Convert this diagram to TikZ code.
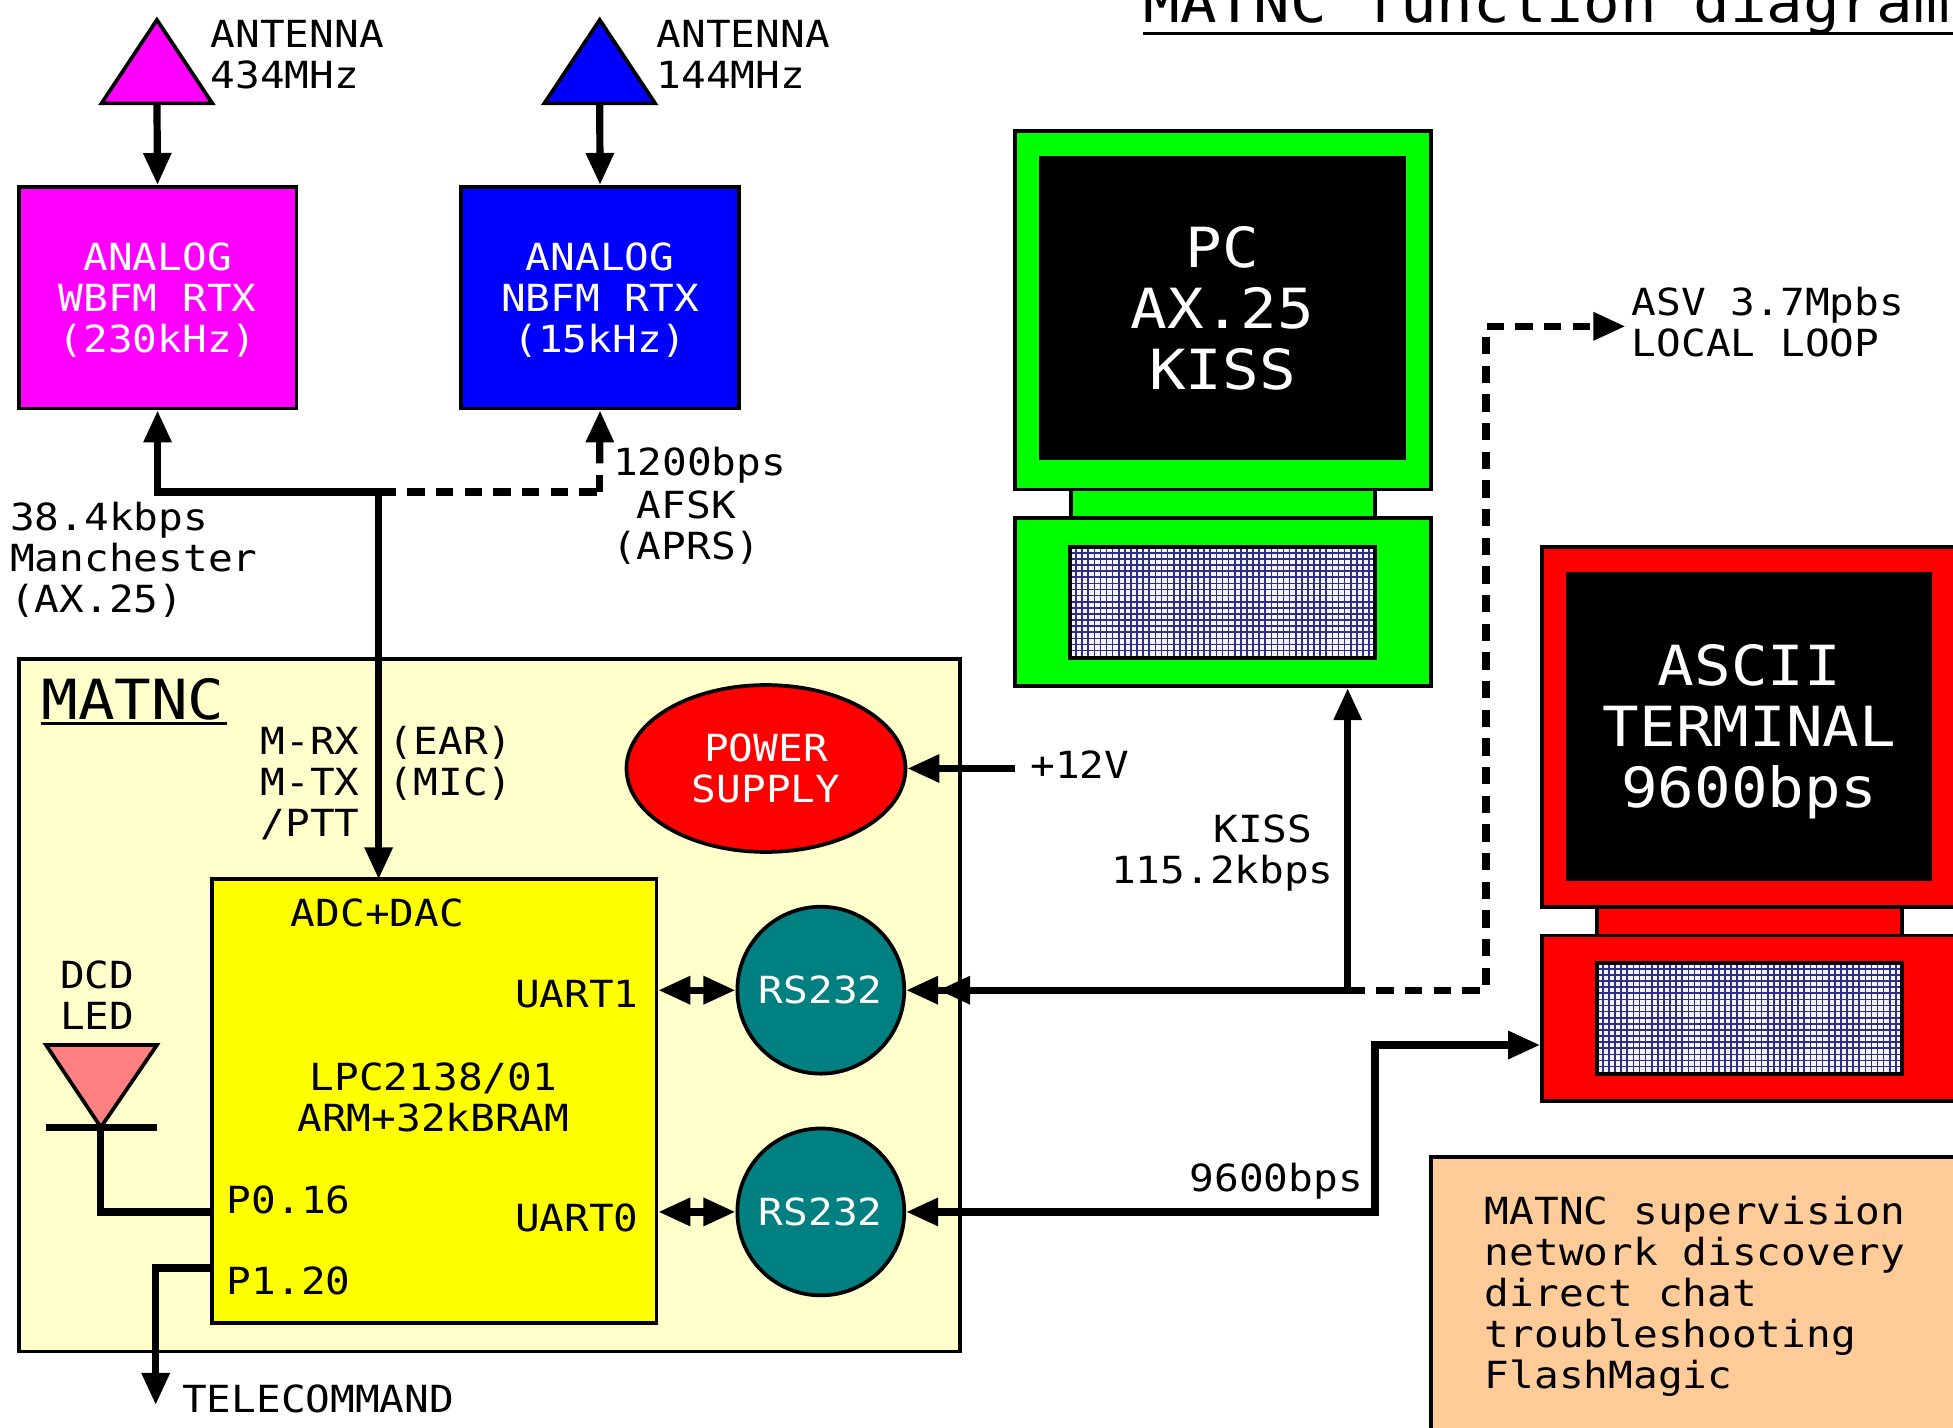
\documentclass[tikz,border=0pt]{standalone}
\usepackage{fontspec}
\usetikzlibrary{arrows.meta,shapes.geometric}
\newfontfamily\monof[FakeStretch=1.1]{DejaVu Sans Mono}
\newlength\uu \setlength\uu{0.934pt}
\definecolor{matbg}{HTML}{FFFFCC}
\definecolor{ledc}{HTML}{FF8080}
\definecolor{teal2}{HTML}{008080}
\definecolor{peach}{HTML}{FFCC99}
\definecolor{gridc}{HTML}{2F2F88}
\definecolor{gridbg}{HTML}{F4F4FF}
\definecolor{mag}{HTML}{FF00FF}
\definecolor{grn}{HTML}{00FF00}
\definecolor{yel}{HTML}{FFFF00}
\definecolor{rd}{HTML}{FF0000}
\definecolor{blu}{HTML}{0000FF}
\tikzset{
  txt/.style={font=\monof\fontsize{28pt}{30.8pt}\selectfont,inner sep=0pt,text height=20.4pt,text depth=0pt,align=center},
  ltxt/.style={txt,align=left},
  rtxt/.style={txt,align=right},
  nl/.style={text height={20.4pt+(#1-1)*30.8pt}},
  bigtxt/.style={font=\monof\fontsize{41.5pt}{45.8pt}\selectfont,inner sep=0pt,text height=30.2pt,text depth=0pt,align=center},
  bnl/.style={text height={30.2pt+(#1-1)*45.8pt}},
  blk/.style={draw=black,line width=2.8pt,inner sep=0pt},
  conn/.style={line width=5.4pt},
  dashc/.style={conn,dash pattern=on 13pt off 8.5pt},
  tip/.tip={Triangle[length=24pt,width=20pt]},
  gridl/.style={draw=gridc,line width=1.25pt}
}
\newcommand\bx[7]{\node[blk,#2,minimum width={(#5-#3)*\uu},minimum height={(#6-#4)*\uu}] (#1) at ({(#3+#5)/2},{(#4+#6)/2}) {#7};}
\newcommand\gridblock[2]{\begin{scope}[shift={(#1,#2)}]
\foreach \i in {0,...,49}{\draw[gridl] ({\i*4.9},0) -- ({\i*4.9},89);}
\foreach \j in {0,...,18}{\draw[gridl] (0,{\j*4.9}) -- (245,{\j*4.9});}
\draw[line width=2.8pt] (0,0) rectangle (245,89);
\end{scope}}
\begin{document}
\begin{tikzpicture}[x=\uu,y=-\uu]
\path[use as bounding box,fill=white] (0,0) rectangle (1568,1146);
\clip (0,0) rectangle (1568,1146);

% title
\node[bigtxt,anchor=base west] (title) at (918,18) {MATNC function diagram};
\draw[line width=2.4pt] (918,27) -- (1600,27);

% antennas
\coordinate (a434) at (126,83);
\coordinate (a144) at (481.5,83);
\draw[blk,fill=mag] (126,16) -- (170.5,83) -- (81.5,83) -- cycle;
\draw[blk,fill=blu] (481.5,16) -- (526,83) -- (437,83) -- cycle;
\node[ltxt,nl=2,anchor=west] (l434) at (169,44) {ANTENNA\\434MHz};
\node[ltxt,nl=2,anchor=west] (l144) at (527,44) {ANTENNA\\144MHz};

% radios
\bx{wbfm}{fill=mag,text=white,txt,nl=3}{15}{150}{238}{328}{ANALOG\\WBFM RTX\\(230kHz)}
\bx{nbfm}{fill=blu,text=white,txt,nl=3}{370}{150}{593.5}{328}{ANALOG\\NBFM RTX\\(15kHz)}
\draw[conn,-{tip}] (a434) -- (wbfm.north);
\draw[conn,-{tip}] (a144) -- (nbfm.north);

\node[ltxt,nl=3,anchor=west] (l384) at (8,448) {38.4kbps\\Manchester\\(AX.25)};
\node[ltxt,anchor=west] (l1200) at (492,371) {1200bps};
\node[txt,nl=2] (lafsk) at (551,422) {AFSK\\(APRS)};

% MATNC board
\bx{board}{fill=matbg}{15}{529}{771}{1085}{}
\node[bigtxt,anchor=base west] (matnc) at (33,578) {MATNC};
\draw[line width=2.4pt] (33,581) -- (182,581);
\bx{cpu}{fill=yel}{170}{706}{527}{1062}{}
\node[rtxt,nl=3,anchor=east] (lmrx) at (289,628) {M-RX\\M-TX\\/PTT};
\node[ltxt,nl=2,anchor=west] (lear) at (312,611) {(EAR)\\(MIC)};
\bx{psu}{ellipse,fill=rd,text=white,txt,nl=2}{503}{550}{727}{684}{POWER\\SUPPLY}
\bx{rs1}{circle,fill=teal2,text=white,txt,minimum size=134*\uu}{592}{728}{726}{862}{RS232}
\bx{rs0}{circle,fill=teal2,text=white,txt,minimum size=134*\uu}{592}{906}{726}{1040}{RS232}

\node[txt] (adc) at (303,733) {ADC+DAC};
\node[rtxt,anchor=east] (u1) at (513,798) {UART1};
\node[rtxt,anchor=east] (u0) at (513,978) {UART0};
\node[txt,nl=2] (lpc) at (348,881) {LPC2138/01\\ARM+32kBRAM};
\node[ltxt,anchor=west] (p016) at (182,963) {P0.16};
\node[ltxt,anchor=west] (p120) at (182,1028) {P1.20};

% LED
\node[txt,nl=2] (ldcd) at (78,799) {DCD\\LED};
\draw[blk,fill=ledc] (37,839) -- (126,839) -- (81,905) -- cycle;
\coordinate (ledk) at (81,905);
\draw[conn] (37,905) -- (126,905);
\coordinate (cpuw0) at (cpu.west |- 0,973);
\coordinate (cpuw1) at (cpu.west |- 0,1018);
\draw[conn] (ledk) -- (81,973) -- (cpuw0);

% telecommand
\coordinate (tcend) at (125,1128);
\draw[conn,-{tip}] (cpuw1) -- (125,1018) -- (tcend);
\node[ltxt,anchor=west] (ltc) at (146,1123) {TELECOMMAND};

% radio bus
\coordinate (bus) at (304,395);
\draw[conn,-{tip}] (bus) -- (126.5,395) -- (wbfm.south);
\draw[dashc] (bus) -- (481.5,395);
\draw[dashc] (481.5,395) -- (481.5,372);
\draw[conn,-{tip}] (481.5,372) -- (nbfm.south);
\draw[conn,-{tip}] (bus) -- (304,706);

% power
\coordinate (v12) at (815,617);
\draw[conn,-{tip}] (v12) -- (psu.east);
\node[ltxt,anchor=west] (l12) at (827,614) {+12V};

% uarts
\coordinate (u1e) at (cpu.east |- 0,795);
\coordinate (u0e) at (cpu.east |- 0,973);
\draw[conn,{tip}-{tip}] (u1e) -- (rs1.west);
\draw[conn,{tip}-{tip}] (u0e) -- (rs0.west);

% PC
\bx{pcmon}{fill=grn}{815}{105}{1149}{393}{}
\bx{pcneck}{fill=grn}{860}{393}{1104}{416}{}
\bx{pcbase}{fill=grn}{815}{416}{1149}{551}{}
\bx{pcscr}{fill=black,text=white,bigtxt,bnl=3}{836}{127}{1127}{368}{PC\\AX.25\\KISS}
\bx{pcgrid}{fill=gridbg}{859}{439}{1104}{528}{}
\gridblock{859}{439}

% Terminal
\bx{tmon}{fill=rd}{1238}{439}{1572}{728}{}
\bx{tneck}{fill=rd}{1282}{728}{1527}{751}{}
\bx{tbase}{fill=rd}{1238}{751}{1572}{884}{}
\bx{tscr}{fill=black,text=white,bigtxt,bnl=3}{1259}{461}{1550}{706}{ASCII\\TERMINAL\\9600bps}
\bx{tgrid}{fill=gridbg}{1282}{773}{1527}{862}{}
\gridblock{1282}{773}

% serial links
\coordinate (kj) at (1082,795);
\coordinate (dj) at (1193,795);
\draw[conn,-{tip[]tip[]}] (kj) -- (rs1.east);
\draw[conn,-{tip}] (kj) -- (pcbase.south -| kj);
\node[rtxt,nl=2,anchor=east] (lk) at (1071,682) {KISS\hspace*{16pt}\\115.2kbps};
\draw[dashc] (kj) -- (dj) -- (1193,262) -- (1280,262);
\coordinate (asv) at (1305,262);
\draw[conn,-{tip}] (1280,262) -- (asv);
\node[ltxt,nl=2,anchor=west] (lasv) at (1310,259) {ASV 3.7Mpbs\\LOCAL LOOP};
\coordinate (t0) at (tbase.west |- 0,839);
\draw[conn,{tip}-{tip}] (rs0.east) -- (1104,973) -- (1104,839) -- (t0);
\node[ltxt,anchor=west] (l96) at (955,946) {9600bps};

% note
\bx{note}{fill=peach}{1149}{929}{1620}{1200}{}
\node[ltxt,nl=5,anchor=west] (ltxtn) at (1192,1038) {MATNC supervision\\network discovery\\direct chat\\troubleshooting\\FlashMagic};
\end{tikzpicture}
\end{document}
